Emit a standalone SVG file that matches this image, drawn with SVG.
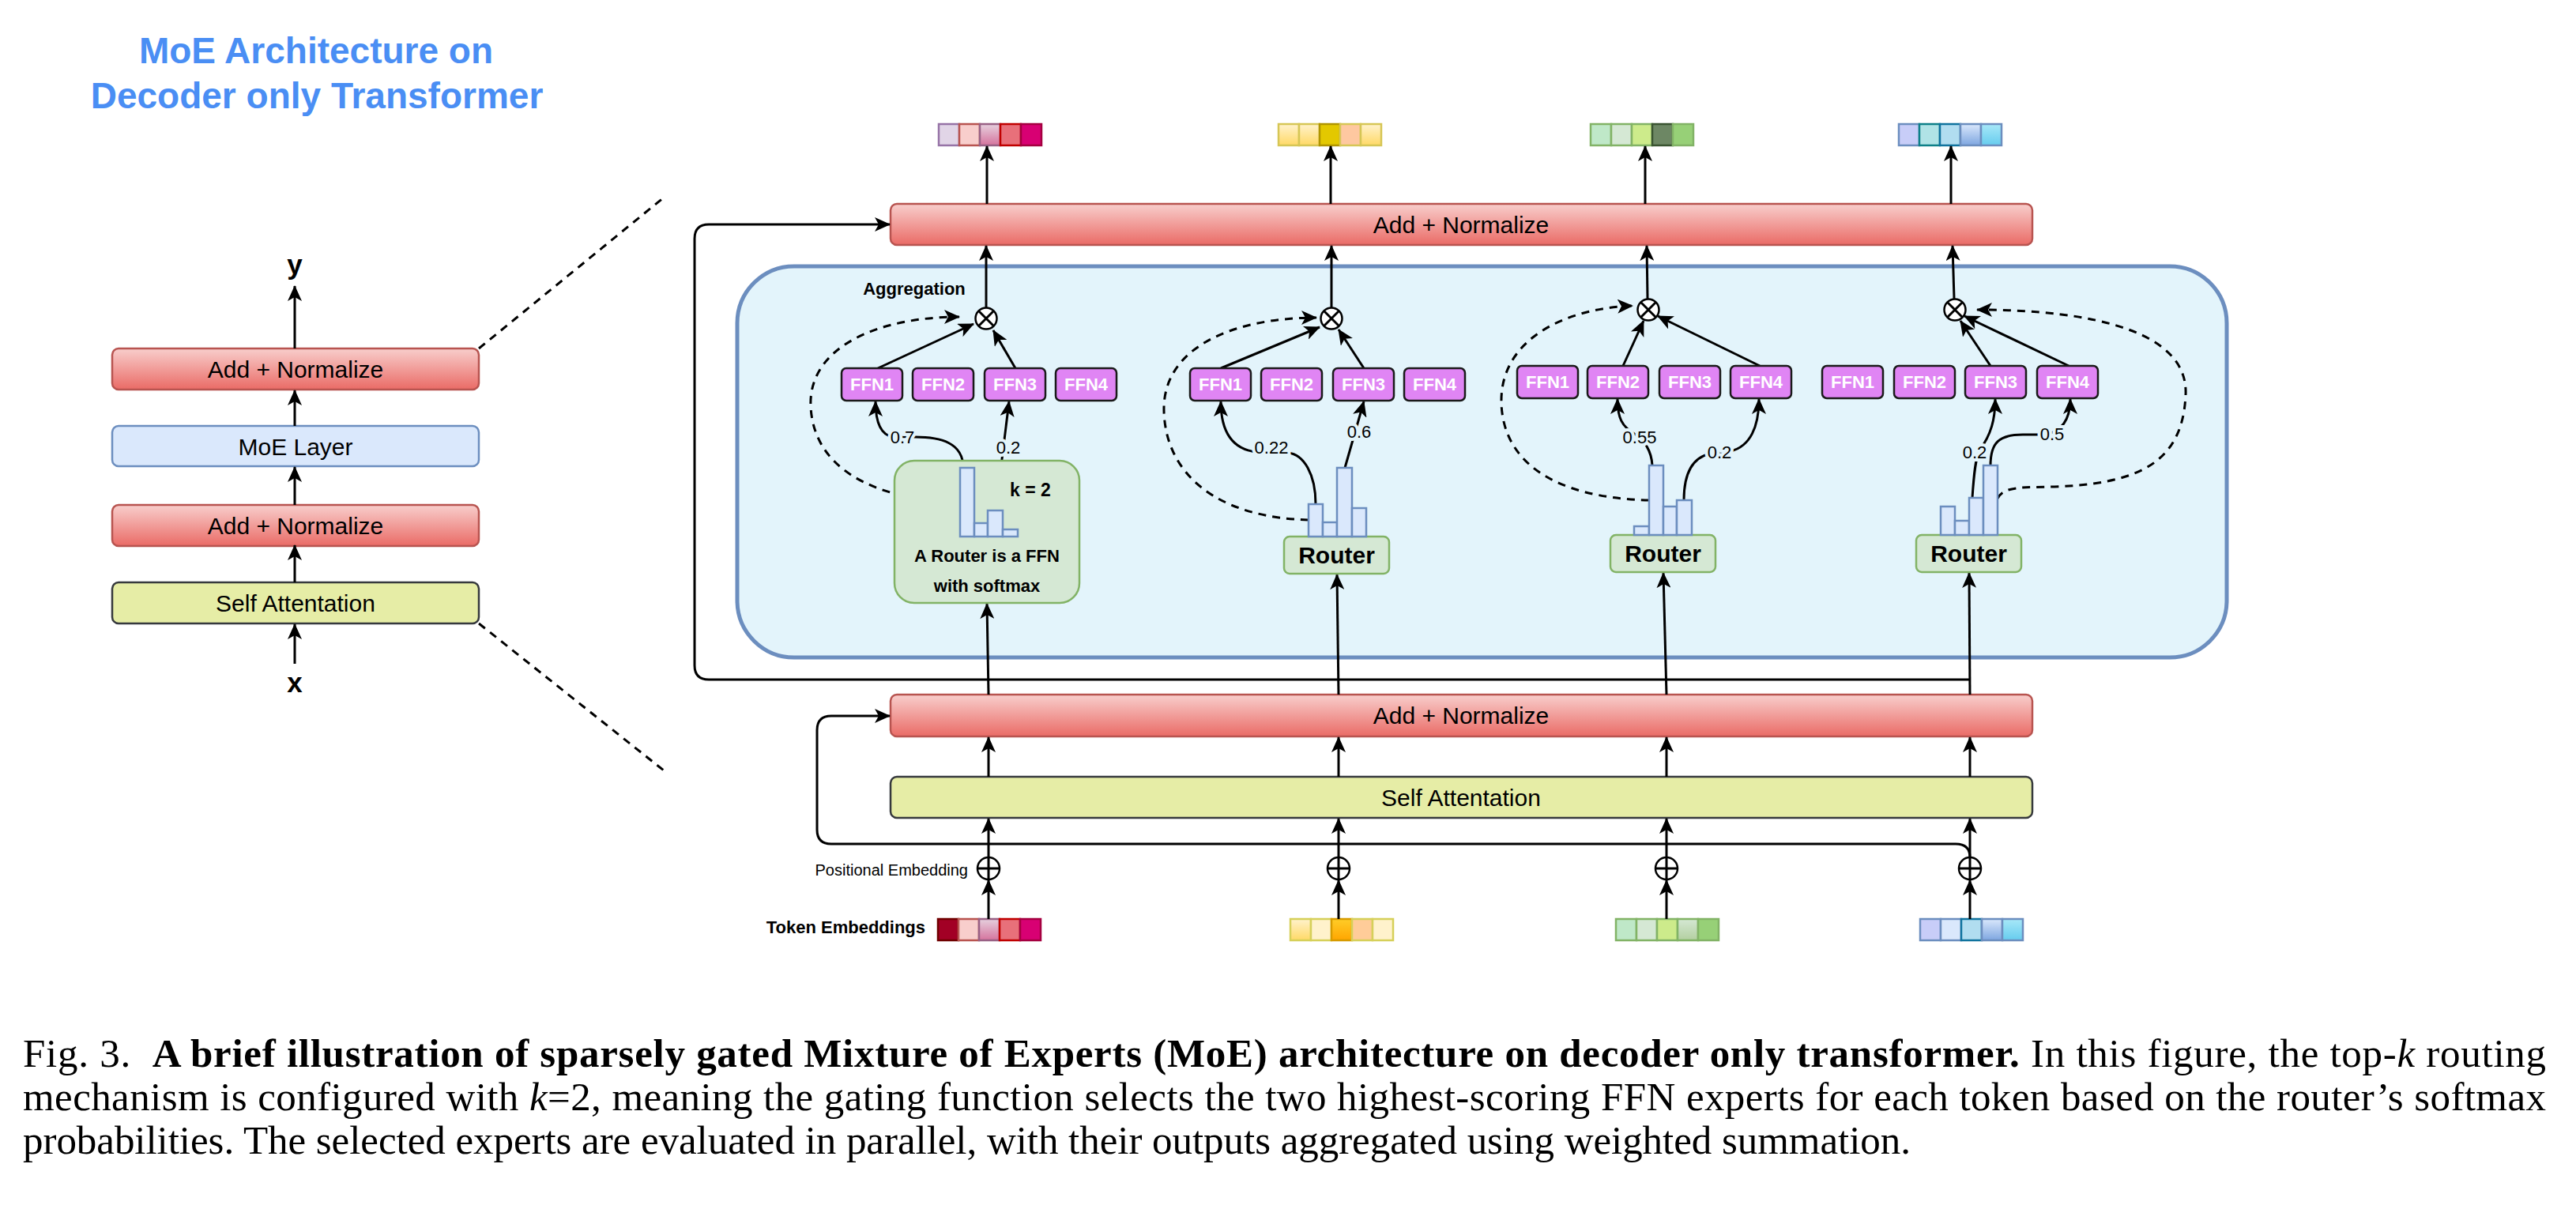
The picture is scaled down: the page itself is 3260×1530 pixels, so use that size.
<svg xmlns="http://www.w3.org/2000/svg" width="3260" height="1530" viewBox="0 0 3260 1530">
<defs>
<style>
.sans{font-family:"Liberation Sans",Arial,sans-serif}
.c{fill:none;stroke:#000;stroke-width:3}
.d{stroke-dasharray:10 8}
.an{stroke:#b85450;stroke-width:2.5;fill:url(#gAN)}
.sa{fill:#e6eda6;stroke:#36393d;stroke-width:2.5}
.moe{fill:#dae8fc;stroke:#6c8ebf;stroke-width:2.5}
.ffn{fill:#e085f4;stroke:#1a1a1a;stroke-width:2.5}
.ffnt{font-family:"Liberation Sans",Arial,sans-serif;font-weight:bold;font-size:22px;fill:#fff;text-anchor:middle}
.rt{fill:#d5e8d4;stroke:#82b366;stroke-width:2.5}
.bar{fill:#dae8fc;stroke:#6c8ebf;stroke-width:2.5}
.lbl{font-family:"Liberation Sans",Arial,sans-serif;font-size:22px;text-anchor:middle;paint-order:stroke;stroke:#e3f4fb;stroke-width:8;fill:#000}
.bt{font-family:"Liberation Sans",Arial,sans-serif;font-size:30px;text-anchor:middle;fill:#000}
.op{fill:#fff;stroke:#000;stroke-width:2.5}
.cap{font-family:"Liberation Serif","Times New Roman",serif;font-size:51px;fill:#000;white-space:pre}
</style>
<linearGradient id="gAN" x1="0" y1="0" x2="0" y2="1"><stop offset="0" stop-color="#f8cecc"/><stop offset="1" stop-color="#ea6b66"/></linearGradient>
<linearGradient id="gPk" x1="0" y1="0" x2="0" y2="1"><stop offset="0" stop-color="#e6d0de"/><stop offset="1" stop-color="#d5739d"/></linearGradient>
<linearGradient id="gYl" x1="0" y1="0" x2="0" y2="1"><stop offset="0" stop-color="#fff2cc"/><stop offset="1" stop-color="#ffd966"/></linearGradient>
<linearGradient id="gOr" x1="0" y1="0" x2="0" y2="1"><stop offset="0" stop-color="#ffcd28"/><stop offset="1" stop-color="#ffa500"/></linearGradient>
<linearGradient id="gGr" x1="0" y1="0" x2="0" y2="1"><stop offset="0" stop-color="#d5e8d4"/><stop offset="1" stop-color="#b3cfa0"/></linearGradient>
<linearGradient id="gBl" x1="0" y1="0" x2="0" y2="1"><stop offset="0" stop-color="#dae8fc"/><stop offset="1" stop-color="#7ea6e0"/></linearGradient>
<linearGradient id="gCy" x1="0" y1="0" x2="0" y2="1"><stop offset="0" stop-color="#a8e8f8"/><stop offset="1" stop-color="#66ccee"/></linearGradient>
<marker id="ah" viewBox="0 0 20 18" markerWidth="20" markerHeight="18" refX="19" refY="9" orient="auto" markerUnits="userSpaceOnUse"><path d="M0,0 L20,9 L0,18 L5,9 Z" fill="#000"/></marker>
</defs>
<rect width="3260" height="1530" fill="#fff"/>

<!-- Title -->
<g id="title" class="sans" font-weight="bold" font-size="46" fill="#4a8ef4" text-anchor="middle">
<text x="400" y="80">MoE Architecture on</text>
<text x="401" y="137">Decoder only Transformer</text>
</g>

<!-- Left panel -->
<g id="left-add-norm-top"><rect class="an" x="142" y="441" width="464" height="52" rx="8"/><text class="bt" x="374" y="478">Add + Normalize</text></g>
<g id="left-moe"><rect class="moe" x="142" y="539" width="464" height="51" rx="8"/><text class="bt" x="374" y="576">MoE Layer</text></g>
<g id="left-add-norm"><rect class="an" x="142" y="639" width="464" height="52" rx="8"/><text class="bt" x="374" y="676">Add + Normalize</text></g>
<g id="left-self-att"><rect class="sa" x="142" y="737" width="464" height="52" rx="8"/><text class="bt" x="374" y="774">Self Attentation</text></g>
<g id="left-labels" class="sans" font-weight="bold" font-size="35" text-anchor="middle">
<text x="373" y="347">y</text>
<text x="373" y="876">x</text>
</g>

<!-- Container -->
<g id="moe-container"><rect x="933" y="337" width="1885" height="495" rx="72" fill="#e3f4fb" stroke="#6c8ebf" stroke-width="5"/></g>

<!-- Main bars -->
<g id="add-norm-top"><rect class="an" x="1127" y="258" width="1445" height="52" rx="8"/><text class="bt" x="1849" y="295">Add + Normalize</text></g>
<g id="add-norm-bottom"><rect class="an" x="1127" y="879" width="1445" height="53" rx="8"/><text class="bt" x="1849" y="916">Add + Normalize</text></g>
<g id="self-attention"><rect class="sa" x="1127" y="983" width="1445" height="52" rx="8"/><text class="bt" x="1849" y="1020">Self Attentation</text></g>

<!-- Output tokens -->
<g id="out-token-1" stroke-width="2.5">
<rect x="1188" y="157" width="26" height="27" fill="#e1d5e7" stroke="#9673a6"/>
<rect x="1214" y="157" width="26" height="27" fill="#f8cecc" stroke="#b85450"/>
<rect x="1240" y="157" width="26" height="27" fill="url(#gPk)" stroke="#996185"/>
<rect x="1266" y="157" width="26" height="27" fill="#e8707a" stroke="#c00000"/>
<rect x="1292" y="157" width="26" height="27" fill="#d80073" stroke="#a50040"/>
</g>
<g id="out-token-2" stroke-width="2.5" stroke="#d6c656">
<rect x="1618" y="157" width="26" height="27" fill="url(#gYl)"/>
<rect x="1644" y="157" width="26" height="27" fill="url(#gYl)"/>
<rect x="1670" y="157" width="26" height="27" fill="#e3c800" stroke="#b09500"/>
<rect x="1696" y="157" width="26" height="27" fill="#fec8a0"/>
<rect x="1722" y="157" width="26" height="27" fill="url(#gYl)"/>
</g>
<g id="out-token-3" stroke-width="2.5" stroke="#82b366">
<rect x="2013" y="157" width="26" height="27" fill="#bfe8c8"/>
<rect x="2039" y="157" width="26" height="27" fill="#d5e8d4"/>
<rect x="2065" y="157" width="26" height="27" fill="#cdeb8b"/>
<rect x="2091" y="157" width="26" height="27" fill="#6d8764" stroke="#3a5431"/>
<rect x="2117" y="157" width="26" height="27" fill="#97d077"/>
</g>
<g id="out-token-4" stroke-width="2.5" stroke="#6c8ebf">
<rect x="2403" y="157" width="26" height="27" fill="#c8cdf8"/>
<rect x="2429" y="157" width="26" height="27" fill="#b0e3e6" stroke="#0e8088"/>
<rect x="2455" y="157" width="26" height="27" fill="#b1ddf0" stroke="#10739e"/>
<rect x="2481" y="157" width="26" height="27" fill="url(#gBl)"/>
<rect x="2507" y="157" width="26" height="27" fill="url(#gCy)"/>
</g>

<!-- Input tokens -->
<g id="in-token-1" stroke-width="2.5">
<rect x="1187" y="1163" width="26" height="27" fill="#a20025" stroke="#6f0000"/>
<rect x="1213" y="1163" width="26" height="27" fill="#f8cecc" stroke="#b85450"/>
<rect x="1239" y="1163" width="26" height="27" fill="url(#gPk)" stroke="#996185"/>
<rect x="1265" y="1163" width="26" height="27" fill="#e8707a" stroke="#c00000"/>
<rect x="1291" y="1163" width="26" height="27" fill="#d80073" stroke="#a50040"/>
</g>
<g id="in-token-2" stroke-width="2.5" stroke="#d6d05a">
<rect x="1633" y="1163" width="26" height="27" fill="url(#gYl)"/>
<rect x="1659" y="1163" width="26" height="27" fill="#fff2cc"/>
<rect x="1685" y="1163" width="26" height="27" fill="url(#gOr)" stroke="#d79b00"/>
<rect x="1711" y="1163" width="26" height="27" fill="#ffcc99"/>
<rect x="1737" y="1163" width="26" height="27" fill="#fff2cc"/>
</g>
<g id="in-token-3" stroke-width="2.5" stroke="#82b366">
<rect x="2045" y="1163" width="26" height="27" fill="#bfe8c8"/>
<rect x="2071" y="1163" width="26" height="27" fill="#d5e8d4"/>
<rect x="2097" y="1163" width="26" height="27" fill="#cdeb8b"/>
<rect x="2123" y="1163" width="26" height="27" fill="url(#gGr)"/>
<rect x="2149" y="1163" width="26" height="27" fill="#97d077"/>
</g>
<g id="in-token-4" stroke-width="2.5" stroke="#6c8ebf">
<rect x="2430" y="1163" width="26" height="27" fill="#c8cdf8"/>
<rect x="2456" y="1163" width="26" height="27" fill="#dae8fc"/>
<rect x="2482" y="1163" width="26" height="27" fill="#b1ddf0" stroke="#10739e"/>
<rect x="2508" y="1163" width="26" height="27" fill="url(#gBl)"/>
<rect x="2534" y="1163" width="26" height="27" fill="url(#gCy)"/>
</g>

<!-- Texts near embeddings -->
<g id="emb-labels" class="sans">
<text x="1225" y="1108" font-size="20" text-anchor="end">Positional Embedding</text>
<text x="1171" y="1181" font-size="22" font-weight="bold" text-anchor="end">Token Embeddings</text>
</g>

<!-- Connectors -->
<g id="connectors">
<path class="c d" stroke-width="2.5" d="M606,441 L840,250"/>
<path class="c d" stroke-width="2.5" d="M606,789 L840,975"/>
<path class="c" marker-end="url(#ah)" d="M373,441 L373,362"/>
<path class="c" marker-end="url(#ah)" d="M373,539 L373,494"/>
<path class="c" marker-end="url(#ah)" d="M373,639 L373,591"/>
<path class="c" marker-end="url(#ah)" d="M373,737 L373,690"/>
<path class="c" marker-end="url(#ah)" d="M373,840 L373,790"/>
<path class="c" marker-end="url(#ah)" d="M2493,860 H897 Q879,860 879,842 V302 Q879,284 897,284 H1126"/>
<path class="c" marker-end="url(#ah)" d="M2493,1085 Q2493,1068 2475,1068 H1052 Q1034,1068 1034,1050 V924 Q1034,906 1052,906 H1126"/>
<path class="c" marker-end="url(#ah)" d="M1251,1163 V1114"/>
<path class="c" marker-end="url(#ah)" d="M1694,1163 V1114"/>
<path class="c" marker-end="url(#ah)" d="M2109,1163 V1114"/>
<path class="c" marker-end="url(#ah)" d="M2493,1163 V1114"/>
<path class="c" marker-end="url(#ah)" d="M1251,1085 V1036"/>
<path class="c" marker-end="url(#ah)" d="M1694,1085 V1036"/>
<path class="c" marker-end="url(#ah)" d="M2109,1085 V1036"/>
<path class="c" marker-end="url(#ah)" d="M2493,1085 V1036"/>
<path class="c" marker-end="url(#ah)" d="M1251,983 V933"/>
<path class="c" marker-end="url(#ah)" d="M1694,983 V933"/>
<path class="c" marker-end="url(#ah)" d="M2109,983 V933"/>
<path class="c" marker-end="url(#ah)" d="M2493,983 V933"/>
<path class="c" marker-end="url(#ah)" d="M1251,879 L1249,764"/>
<path class="c" marker-end="url(#ah)" d="M1694,879 L1692,727"/>
<path class="c" marker-end="url(#ah)" d="M2109,879 L2105,725"/>
<path class="c" marker-end="url(#ah)" d="M2493,879 L2492,725"/>
<path class="c" marker-end="url(#ah)" d="M1248,389 V311"/>
<path class="c" marker-end="url(#ah)" d="M1685,389 V311"/>
<path class="c" marker-end="url(#ah)" d="M2085,378 L2084,311"/>
<path class="c" marker-end="url(#ah)" d="M2473,378 L2471,311"/>
<path class="c" marker-end="url(#ah)" d="M1249,258 V185"/>
<path class="c" marker-end="url(#ah)" d="M1684,258 V185"/>
<path class="c" marker-end="url(#ah)" d="M2082,258 V185"/>
<path class="c" marker-end="url(#ah)" d="M2469,258 V185"/>
<path class="c" marker-end="url(#ah)" d="M1111,466 L1232,410"/>
<path class="c" marker-end="url(#ah)" d="M1285,466 L1257,418"/>
<path class="c" marker-end="url(#ah)" d="M1545,466 L1670,414"/>
<path class="c" marker-end="url(#ah)" d="M1726,466 L1694,417"/>
<path class="c" marker-end="url(#ah)" d="M2054,463 L2080,406"/>
<path class="c" marker-end="url(#ah)" d="M2227,463 L2098,400"/>
<path class="c" marker-end="url(#ah)" d="M2519,463 L2481,406"/>
<path class="c" marker-end="url(#ah)" d="M2618,463 L2486,400"/>
<path class="c d" marker-end="url(#ah)" d="M1215,636 C1100,632 1030,590 1026,515 C1022,440 1110,401 1214,401"/>
<path class="c d" marker-end="url(#ah)" d="M1656,658 C1540,655 1475,600 1473,520 C1471,440 1560,402 1666,402"/>
<path class="c d" marker-end="url(#ah)" d="M2087,633 C1960,630 1902,580 1900,510 C1898,430 1980,390 2066,387"/>
<path class="c d" marker-end="url(#ah)" d="M2528,631 C2535,615 2560,617 2600,616 C2700,612 2762,590 2766,500 C2770,420 2650,392 2502,392"/>
<path class="c" marker-end="url(#ah)" d="M1219,592 C1219,560 1190,553 1158,553 L1130,553 C1112,550 1108,530 1108,508"/>
<path class="c" marker-end="url(#ah)" d="M1260,646 L1277,508"/>
<path class="c" marker-end="url(#ah)" d="M1665,638 C1665,600 1650,575 1630,573 L1590,572 C1555,568 1545,540 1545,508"/>
<path class="c" marker-end="url(#ah)" d="M1702,592 L1726,508"/>
<path class="c" marker-end="url(#ah)" d="M2091,589 C2090,570 2080,556 2070,550 C2052,540 2047,528 2047,505"/>
<path class="c" marker-end="url(#ah)" d="M2131,633 C2131,595 2145,578 2165,574 L2190,571 C2215,565 2226,540 2226,505"/>
<path class="c" marker-end="url(#ah)" d="M2496,630 C2498,600 2500,580 2505,570 C2520,550 2525,530 2525,505"/>
<path class="c" marker-end="url(#ah)" d="M2519,589 C2519,560 2530,550 2560,550 L2590,550 C2610,545 2620,530 2620,505"/>
</g>

<!-- edge labels -->
<g id="edge-labels">
<text class="lbl" x="1142" y="561">0.7</text>
<text class="lbl" x="1276" y="574">0.2</text>
<text class="lbl" x="1609" y="574">0.22</text>
<text class="lbl" x="1720" y="554">0.6</text>
<text class="lbl" x="2075" y="561">0.55</text>
<text class="lbl" x="2176" y="580">0.2</text>
<text class="lbl" x="2499" y="580">0.2</text>
<text class="lbl" x="2597" y="557">0.5</text>
</g>

<!-- Otimes -->
<g id="agg-1"><circle class="op" cx="1248" cy="403" r="13.5"/><path class="c" stroke-width="2.5" d="M1238.5,393.5 L1257.5,412.5 M1257.5,393.5 L1238.5,412.5"/></g>
<g id="agg-2"><circle class="op" cx="1685" cy="403" r="13.5"/><path class="c" stroke-width="2.5" d="M1675.5,393.5 L1694.5,412.5 M1694.5,393.5 L1675.5,412.5"/></g>
<g id="agg-3"><circle class="op" cx="2086" cy="392" r="13.5"/><path class="c" stroke-width="2.5" d="M2076.5,382.5 L2095.5,401.5 M2095.5,382.5 L2076.5,401.5"/></g>
<g id="agg-4"><circle class="op" cx="2474" cy="392" r="13.5"/><path class="c" stroke-width="2.5" d="M2464.5,382.5 L2483.5,401.5 M2483.5,382.5 L2464.5,401.5"/></g>
<text class="sans" x="1157" y="373" font-size="22" font-weight="bold" text-anchor="middle">Aggregation</text>

<!-- Oplus -->
<g id="pos-1"><circle class="op" cx="1251" cy="1099" r="14"/><path class="c" stroke-width="2.5" d="M1237,1099 H1265 M1251,1085 V1113"/></g>
<g id="pos-2"><circle class="op" cx="1694" cy="1099" r="14"/><path class="c" stroke-width="2.5" d="M1680,1099 H1708 M1694,1085 V1113"/></g>
<g id="pos-3"><circle class="op" cx="2109" cy="1099" r="14"/><path class="c" stroke-width="2.5" d="M2095,1099 H2123 M2109,1085 V1113"/></g>
<g id="pos-4"><circle class="op" cx="2493" cy="1099" r="14"/><path class="c" stroke-width="2.5" d="M2479,1099 H2507 M2493,1085 V1113"/></g>

<!-- FFN experts -->
<g id="ffn-col1">
<rect class="ffn" x="1065" y="466" width="77" height="41" rx="6"/><text class="ffnt" x="1103.5" y="494">FFN1</text>
<rect class="ffn" x="1155" y="466" width="77" height="41" rx="6"/><text class="ffnt" x="1193.5" y="494">FFN2</text>
<rect class="ffn" x="1246" y="466" width="77" height="41" rx="6"/><text class="ffnt" x="1284.5" y="494">FFN3</text>
<rect class="ffn" x="1336" y="466" width="77" height="41" rx="6"/><text class="ffnt" x="1374.5" y="494">FFN4</text>
</g>
<g id="ffn-col2">
<rect class="ffn" x="1506" y="466" width="77" height="41" rx="6"/><text class="ffnt" x="1544.5" y="494">FFN1</text>
<rect class="ffn" x="1596" y="466" width="77" height="41" rx="6"/><text class="ffnt" x="1634.5" y="494">FFN2</text>
<rect class="ffn" x="1687" y="466" width="77" height="41" rx="6"/><text class="ffnt" x="1725.5" y="494">FFN3</text>
<rect class="ffn" x="1777" y="466" width="77" height="41" rx="6"/><text class="ffnt" x="1815.5" y="494">FFN4</text>
</g>
<g id="ffn-col3">
<rect class="ffn" x="1920" y="463" width="77" height="41" rx="6"/><text class="ffnt" x="1958.5" y="491">FFN1</text>
<rect class="ffn" x="2009" y="463" width="77" height="41" rx="6"/><text class="ffnt" x="2047.5" y="491">FFN2</text>
<rect class="ffn" x="2100" y="463" width="77" height="41" rx="6"/><text class="ffnt" x="2138.5" y="491">FFN3</text>
<rect class="ffn" x="2190" y="463" width="77" height="41" rx="6"/><text class="ffnt" x="2228.5" y="491">FFN4</text>
</g>
<g id="ffn-col4">
<rect class="ffn" x="2306" y="463" width="77" height="41" rx="6"/><text class="ffnt" x="2344.5" y="491">FFN1</text>
<rect class="ffn" x="2397" y="463" width="77" height="41" rx="6"/><text class="ffnt" x="2435.5" y="491">FFN2</text>
<rect class="ffn" x="2487" y="463" width="77" height="41" rx="6"/><text class="ffnt" x="2525.5" y="491">FFN3</text>
<rect class="ffn" x="2578" y="463" width="77" height="41" rx="6"/><text class="ffnt" x="2616.5" y="491">FFN4</text>
</g>

<!-- Routers -->
<g id="router-1">
<rect class="rt" x="1132" y="583" width="234" height="180" rx="25"/>
<text class="sans" x="1249" y="711" font-size="22" font-weight="bold" text-anchor="middle">A Router is a FFN</text>
<text class="sans" x="1249" y="749" font-size="22" font-weight="bold" text-anchor="middle">with softmax</text>
<text class="sans" x="1304" y="628" font-size="23" font-weight="bold" text-anchor="middle">k = 2</text>
</g>
<g id="router-2"><rect class="rt" x="1625" y="679" width="133" height="47" rx="7"/><text class="sans" x="1691.5" y="713" font-size="30" font-weight="bold" text-anchor="middle">Router</text></g>
<g id="router-3"><rect class="rt" x="2038" y="677" width="133" height="47" rx="7"/><text class="sans" x="2104.5" y="711" font-size="30" font-weight="bold" text-anchor="middle">Router</text></g>
<g id="router-4"><rect class="rt" x="2425" y="677" width="133" height="47" rx="7"/><text class="sans" x="2491.5" y="711" font-size="30" font-weight="bold" text-anchor="middle">Router</text></g>

<!-- Softmax bars -->
<g id="bars-1">
<rect class="bar" x="1215" y="592" width="18" height="87"/>
<rect class="bar" x="1233" y="662" width="17" height="17"/>
<rect class="bar" x="1250" y="646" width="19" height="33"/>
<rect class="bar" x="1269" y="670" width="19" height="9"/>
</g>
<g id="bars-2">
<rect class="bar" x="1656" y="638" width="18" height="41"/>
<rect class="bar" x="1674" y="661" width="18" height="18"/>
<rect class="bar" x="1692" y="592" width="19" height="87"/>
<rect class="bar" x="1711" y="643" width="18" height="36"/>
</g>
<g id="bars-3">
<rect class="bar" x="2068" y="666" width="19" height="11"/>
<rect class="bar" x="2087" y="589" width="18" height="88"/>
<rect class="bar" x="2105" y="641" width="17" height="36"/>
<rect class="bar" x="2122" y="633" width="19" height="44"/>
</g>
<g id="bars-4">
<rect class="bar" x="2456" y="641" width="18" height="36"/>
<rect class="bar" x="2474" y="659" width="18" height="18"/>
<rect class="bar" x="2492" y="630" width="18" height="47"/>
<rect class="bar" x="2510" y="589" width="18" height="88"/>
</g>

<!-- Caption -->
<g id="caption">
<text class="cap" x="29" y="1350" textLength="3193" lengthAdjust="spacing">Fig. 3.  <tspan font-weight="bold">A brief illustration of sparsely gated Mixture of Experts (MoE) architecture on decoder only transformer.</tspan> In this figure, the top-<tspan font-style="italic">k</tspan> routing</text>
<text class="cap" x="29" y="1405" textLength="3193" lengthAdjust="spacing">mechanism is configured with <tspan font-style="italic">k</tspan>=2, meaning the gating function selects the two highest-scoring FFN experts for each token based on the router’s softmax</text>
<text class="cap" x="29" y="1460" textLength="2389" lengthAdjust="spacing">probabilities. The selected experts are evaluated in parallel, with their outputs aggregated using weighted summation.</text>
</g>
</svg>
